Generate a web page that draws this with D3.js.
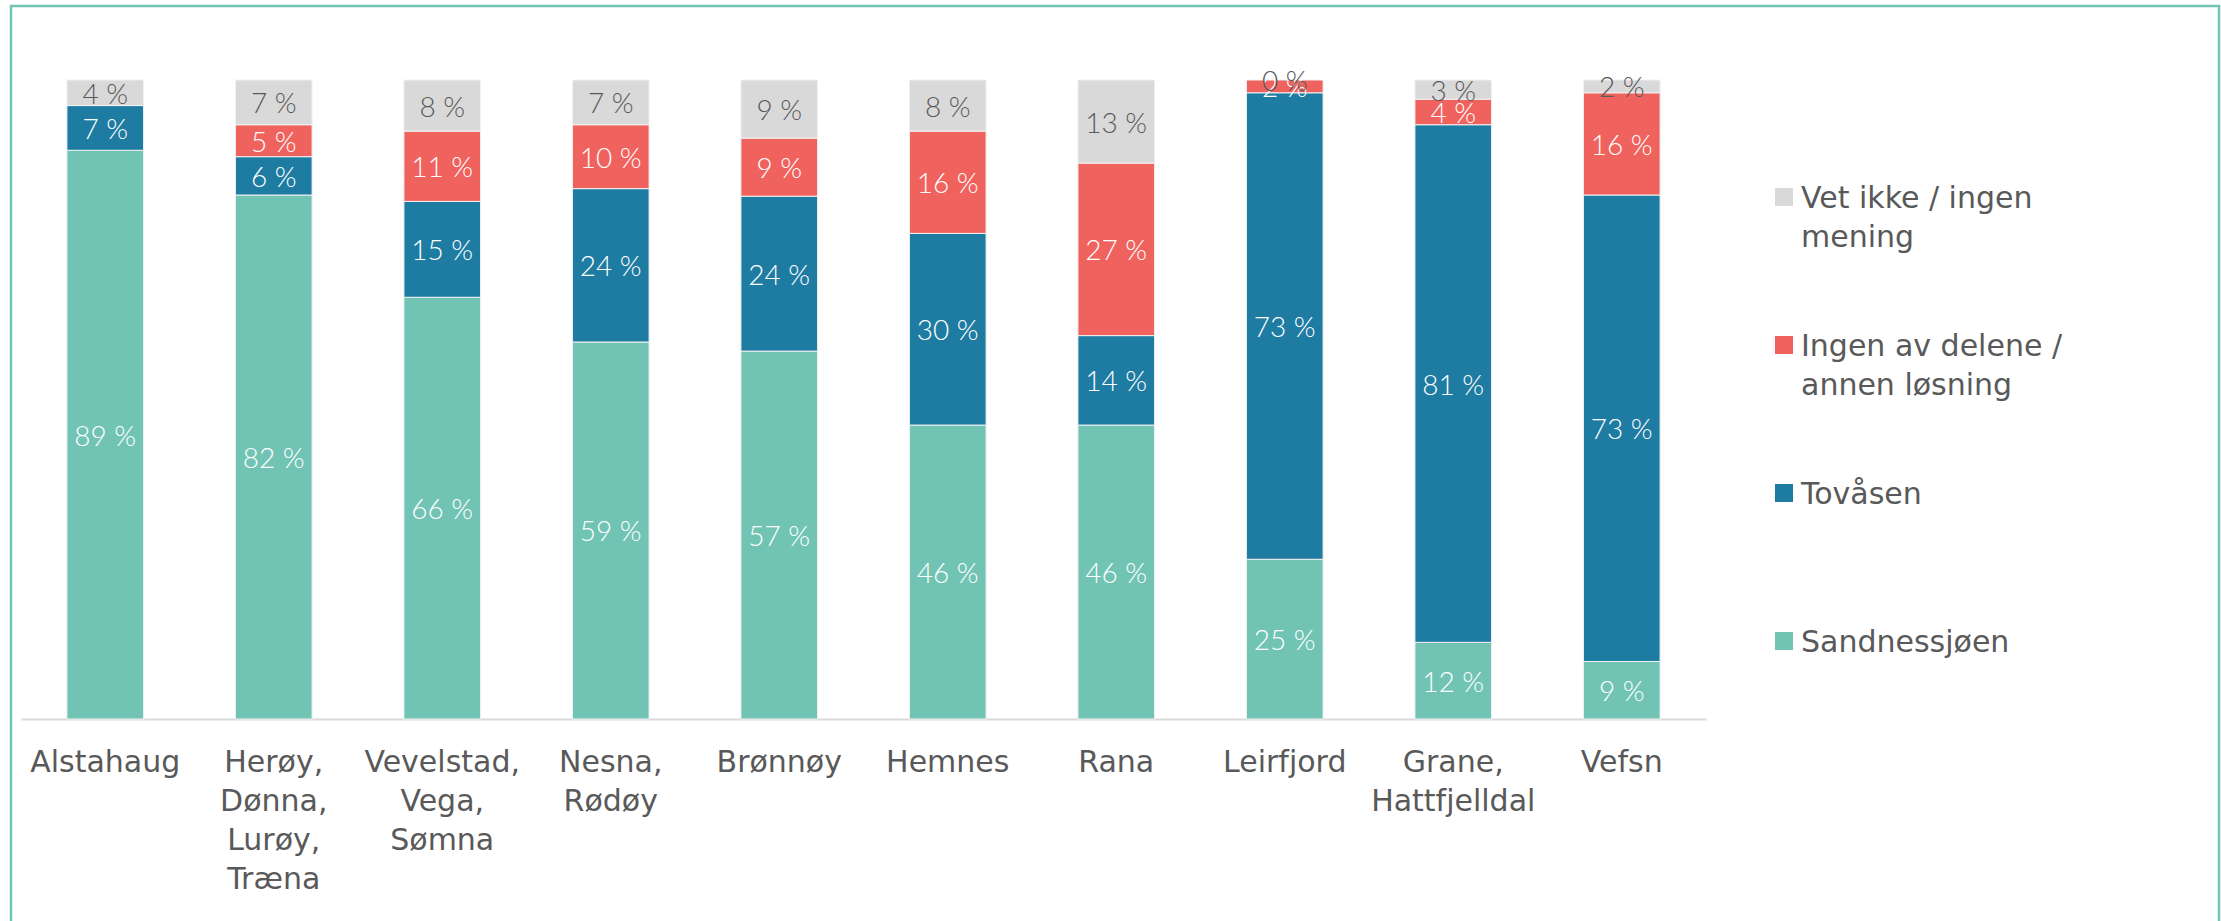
<!DOCTYPE html>
<html>
<head>
<meta charset="utf-8">
<script src="https://cdn.jsdelivr.net/npm/d3@7"></script>
<style>
  body { margin: 0; background: #fff; }
</style>
</head>
<body>
<div id="chart"></div>
<script>
// data (percent per area)
var categories = ["Alstahaug", "Herøy, Dønna, Lurøy, Træna", "Vevelstad, Vega, Sømna", "Nesna, Rødøy",
                  "Brønnøy", "Hemnes", "Rana", "Leirfjord", "Grane, Hattfjelldal", "Vefsn"];
var sandnessjoen = [89, 82, 66, 59, 57, 46, 46, 25, 12, 9];
var tovasen      = [7, 6, 15, 24, 24, 30, 14, 73, 81, 73];
var ingenAv      = [null, 5, 11, 10, 9, 16, 27, 2, 4, 16];
var vetIkke      = [4, 7, 8, 7, 9, 8, 13, 0, 3, 2];

var seriesNames = ["Sandnessjøen", "Tovåsen", "Ingen av delene / annen løsning", "Vet ikke / ingen mening"];
var seriesColors = ["#71c3b4", "#1e7ba2", "#f0625d", "#d9d9d9"];
var labelColors = ["#ffffff", "#ffffff", "#ffffff", "#595959"];

var W = 2221, H = 921;
var plot = {left: 21, right: 1706, top: 80, bottom: 719};

var svg = d3.select("#chart").append("svg")
    .attr("width", W)
    .attr("height", H);

// outer frame
svg.append("rect")
    .attr("x", 11).attr("y", 6)
    .attr("width", 2208).attr("height", 940)
    .attr("fill", "none")
    .attr("stroke", "#71c3b4")
    .attr("stroke-width", 2.5);

var rows = categories.map(function(c, i) {
  var r = {cat: c};
  r[seriesNames[0]] = sandnessjoen[i];
  r[seriesNames[1]] = tovasen[i];
  r[seriesNames[2]] = ingenAv[i];
  r[seriesNames[3]] = vetIkke[i];
  return r;
});

var stack = d3.stack()
    .keys(seriesNames)
    .value(function(d, k) { return d[k] == null ? 0 : d[k]; })
    .offset(d3.stackOffsetExpand);
var stacked = stack(rows);

var x = d3.scaleBand()
    .domain(categories)
    .range([plot.left, plot.right])
    .paddingInner(0.545)
    .paddingOuter(0.2725);

var y = d3.scaleLinear()
    .domain([0, 1])
    .range([plot.bottom, plot.top]);

// x axis
var xAxis = svg.append("g")
    .attr("transform", "translate(0," + plot.bottom + ")")
    .call(d3.axisBottom(x).tickSize(0).tickSizeOuter(0));
xAxis.select(".domain")
    .attr("stroke", "#d9d9d9")
    .attr("stroke-width", 2);
xAxis.selectAll(".tick text").each(function(d) {
  var t = d3.select(this);
  var lines = d.split(/(?<=,) /);
  t.text(null)
    .attr("y", null).attr("dy", null)
    .style("font-family", "'DejaVu Sans', sans-serif")
    .style("font-size", "30px")
    .attr("fill", "#595959");
  lines.forEach(function(l, i) {
    t.append("tspan").attr("x", 0).attr("y", 53 + i * 39).text(l);
  });
});

// bars
var groups = svg.append("g").selectAll("g")
    .data(stacked)
    .enter().append("g")
    .attr("fill", function(d, i) { return seriesColors[i]; });

groups.selectAll("rect")
    .data(function(d) { return d; })
    .enter().append("rect")
    .attr("x", function(d) { return x(d.data.cat); })
    .attr("y", function(d) { return y(d[1]); })
    .attr("width", x.bandwidth())
    .attr("height", function(d) { return y(d[0]) - y(d[1]); })
    .attr("stroke", "#f2f2f2")
    .attr("stroke-width", 1);

// data labels
stacked.forEach(function(s, si) {
  svg.append("g").selectAll("text")
    .data(s.filter(function(d) { return d.data[s.key] != null; }))
    .enter().append("text")
    .attr("x", function(d) { return x(d.data.cat) + x.bandwidth() / 2; })
    .attr("y", function(d) { return (y(d[0]) + y(d[1])) / 2; })
    .attr("text-anchor", "middle")
    .attr("dominant-baseline", "central")
    .style("font-family", "Lato, 'Open Sans', sans-serif")
    .style("font-weight", 300)
    .style("font-size", "28px")
    .attr("fill", labelColors[si])
    .text(function(d) { return d.data[s.key] + " %"; });
});

// legend (top to bottom reversed)
var legendItems = seriesNames.slice().reverse();
var legend = svg.append("g").selectAll("g")
    .data(legendItems)
    .enter().append("g")
    .attr("transform", function(d, i) { return "translate(1775," + (188 + i * 148) + ")"; });

legend.append("rect")
    .attr("width", 18).attr("height", 18)
    .attr("fill", function(d) { return seriesColors[seriesNames.indexOf(d)]; });

legend.append("text")
    .attr("x", 26)
    .style("font-family", "'DejaVu Sans', sans-serif")
    .style("font-size", "30px")
    .attr("fill", "#595959")
    .each(function(d) {
      var t = d3.select(this);
      var words = d.split(" ");
      var line = [], lineNo = 0;
      var tspan = t.append("tspan").attr("x", 26).attr("y", 20);
      words.forEach(function(w) {
        line.push(w);
        tspan.text(line.join(" "));
        if (tspan.node().getComputedTextLength() > 300 && line.length > 1) {
          line.pop();
          tspan.text(line.join(" "));
          line = [w];
          lineNo++;
          tspan = t.append("tspan").attr("x", 26).attr("y", 20 + lineNo * 39).text(w);
        }
      });
    });
</script>
</body>
</html>
